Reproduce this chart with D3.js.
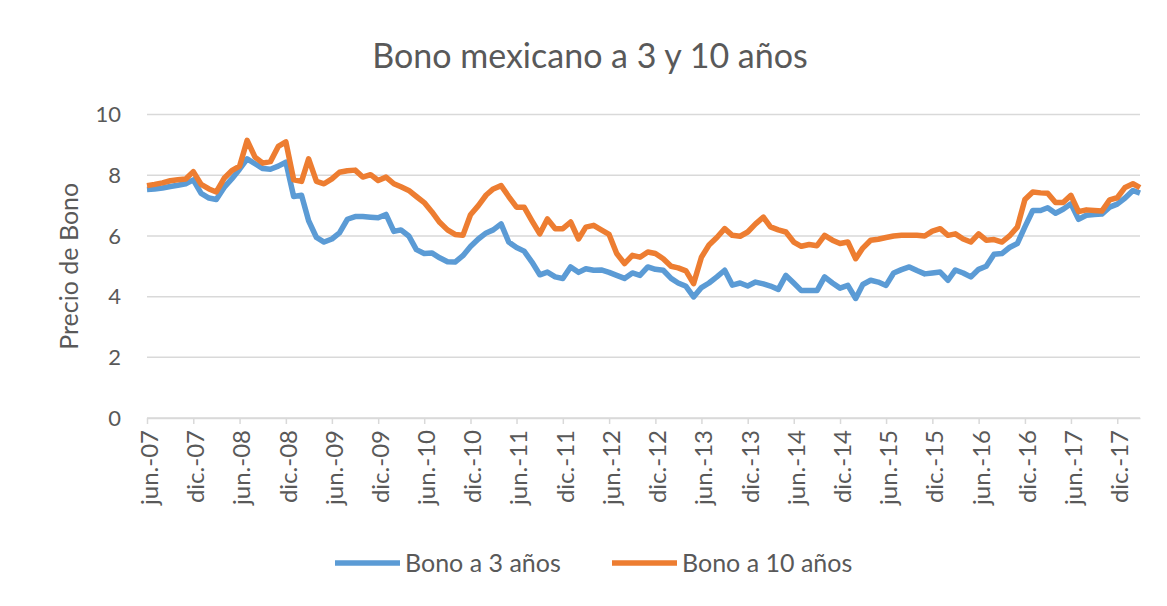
<!DOCTYPE html>
<html>
<head>
<meta charset="utf-8">
<script src="https://cdn.jsdelivr.net/npm/d3@7"></script>
<style>
  body { margin: 0; background: #fff; }
  text { font-family: Lato, "Open Sans", sans-serif; fill: #595959; }
</style>
</head>
<body>
<div id="chart"></div>
<script>
// data
const START = new Date(2007, 5, 1);   // jun.-07
const END = new Date(2018, 2, 1);     // mar.-18
const months = d3.timeMonth.range(START, d3.timeMonth.offset(END, 1));

const bono3 = [
    7.53, 7.55, 7.58, 7.63, 7.67, 7.72, 7.85, 7.40, 7.25, 7.20,
    7.60, 7.88, 8.20, 8.54, 8.38, 8.22, 8.20, 8.30, 8.43, 7.30,
    7.34, 6.50, 5.95, 5.80, 5.90, 6.10, 6.55, 6.64, 6.64, 6.62,
    6.60, 6.71, 6.15, 6.20, 6.00, 5.55, 5.42, 5.44, 5.28, 5.15,
    5.14, 5.35, 5.65, 5.90, 6.10, 6.20, 6.40, 5.80, 5.62, 5.50,
    5.14, 4.72, 4.81, 4.65, 4.60, 4.98, 4.80, 4.92, 4.87, 4.88,
    4.80, 4.70, 4.60, 4.78, 4.70, 4.98, 4.90, 4.87, 4.60, 4.45,
    4.34, 3.99, 4.30, 4.45, 4.65, 4.87, 4.38, 4.45, 4.35, 4.48,
    4.42, 4.35, 4.24, 4.70, 4.45, 4.20, 4.20, 4.20, 4.65, 4.45,
    4.28, 4.37, 3.94, 4.40, 4.54, 4.48, 4.37, 4.78, 4.89, 4.98,
    4.86, 4.75, 4.78, 4.81, 4.54, 4.88, 4.78, 4.65, 4.90, 5.00,
    5.40, 5.42, 5.62, 5.75, 6.30, 6.84, 6.84, 6.93, 6.75, 6.88,
    7.06, 6.55, 6.68, 6.71, 6.72, 6.95, 7.05, 7.25, 7.50, 7.41
];
const bono10 = [
    7.66, 7.70, 7.75, 7.82, 7.85, 7.88, 8.12, 7.70, 7.55, 7.45,
    7.90, 8.15, 8.30, 9.15, 8.60, 8.40, 8.45, 8.95, 9.10, 7.85,
    7.80, 8.54, 7.80, 7.72, 7.88, 8.10, 8.15, 8.17, 7.94, 8.02,
    7.83, 7.94, 7.72, 7.62, 7.50, 7.30, 7.10, 6.80, 6.45, 6.20,
    6.05, 6.02, 6.70, 7.00, 7.35, 7.55, 7.66, 7.30, 6.95, 6.95,
    6.50, 6.07, 6.56, 6.24, 6.24, 6.46, 5.90, 6.29, 6.35, 6.20,
    6.05, 5.42, 5.09, 5.36, 5.30, 5.47, 5.42, 5.25, 5.00, 4.95,
    4.85, 4.43, 5.30, 5.70, 5.95, 6.24, 6.02, 5.99, 6.13, 6.40,
    6.62, 6.30, 6.20, 6.13, 5.80, 5.66, 5.72, 5.68, 6.02, 5.86,
    5.75, 5.80, 5.25, 5.60, 5.86, 5.89, 5.95, 6.00, 6.02, 6.02,
    6.02, 6.00, 6.16, 6.24, 6.02, 6.07, 5.90, 5.80, 6.07, 5.86,
    5.88, 5.80, 6.00, 6.29, 7.20, 7.45, 7.42, 7.41, 7.10, 7.10,
    7.34, 6.80, 6.86, 6.84, 6.82, 7.19, 7.26, 7.60, 7.72, 7.59
];
const seriesNames = ["Bono a 3 años", "Bono a 10 años"];
const monthNames = ["ene.", "feb.", "mar.", "abr.", "may.", "jun.",
    "jul.", "ago.", "sep.", "oct.", "nov.", "dic."];
const yTicks = [0, 2, 4, 6, 8, 10];

// constants
const WIDTH = 1167;
const HEIGHT = 606;
const PLOT_LEFT = 147;
const PLOT_RIGHT = 1140;
const PLOT_TOP = 114.6;
const PLOT_BOTTOM = 418;
const BLUE = "#5b9bd5";
const ORANGE = "#ed7d31";
const GRID = "#d9d9d9";

const svg = d3.select("#chart").append("svg")
    .attr("width", WIDTH)
    .attr("height", HEIGHT);

const x = d3.scaleTime()
    .domain([START, END])
    .range([PLOT_LEFT, PLOT_RIGHT]);
const y = d3.scaleLinear()
    .domain([0, 10])
    .range([PLOT_BOTTOM, PLOT_TOP]);

// gridlines
svg.append("g")
    .selectAll("line")
    .data(yTicks)
    .join("line")
    .attr("x1", PLOT_LEFT)
    .attr("x2", PLOT_RIGHT)
    .attr("y1", d => y(d))
    .attr("y2", d => y(d))
    .attr("stroke", GRID)
    .attr("stroke-width", 1.5);

// y axis labels
const yAxis = svg.append("g")
    .attr("transform", "translate(" + (PLOT_LEFT - 26) + ",0)")
    .call(d3.axisLeft(y).tickValues(yTicks).tickSize(0).tickPadding(0));
yAxis.select(".domain").remove();
yAxis.selectAll("text")
    .style("font-size", "22px")
    .attr("fill", "#595959");

// x axis
const xTicks = months.filter(d => d.getMonth() === 5 || d.getMonth() === 11)
    .filter(d => d <= new Date(2017, 11, 1));
const xAxis = svg.append("g")
    .attr("transform", "translate(0," + PLOT_BOTTOM + ")")
    .call(d3.axisBottom(x)
        .tickValues(xTicks)
        .tickSize(6)
        .tickSizeOuter(0)
        .tickFormat(d => monthNames[d.getMonth()] + "-" + d3.timeFormat("%y")(d)));
xAxis.select(".domain").attr("stroke", GRID).attr("stroke-width", 1.5);
xAxis.selectAll(".tick line").attr("stroke", GRID).attr("stroke-width", 1.5);
xAxis.selectAll("text")
    .style("font-size", "24px")
    .attr("fill", "#595959")
    .attr("text-anchor", "end")
    .attr("transform", "rotate(-90)")
    .attr("x", -12)
    .attr("y", 2)
    .attr("dy", "0.35em");

// lines
const line = d3.line()
    .x((d, i) => x(months[i]))
    .y(d => y(d));

[[bono3, BLUE], [bono10, ORANGE]].forEach(([vals, colour]) => {
    svg.append("path")
        .datum(vals)
        .attr("fill", "none")
        .attr("stroke", colour)
        .attr("stroke-width", 5.5)
        .attr("stroke-linejoin", "round")
        .attr("d", line);
});

// title
svg.append("text")
    .attr("x", 590)
    .attr("y", 68)
    .attr("text-anchor", "middle")
    .style("font-size", "34px")
    .text("Bono mexicano a 3 y 10 años");

// y title
svg.append("text")
    .attr("transform", "translate(78," + ((PLOT_TOP + PLOT_BOTTOM) / 2) + ") rotate(-90)")
    .attr("text-anchor", "middle")
    .style("font-size", "25px")
    .text("Precio de Bono");

// legend
const legend = svg.append("g");
const legendItems = [
    { name: seriesNames[0], colour: BLUE, x: 335 },
    { name: seriesNames[1], colour: ORANGE, x: 612 },
];
legendItems.forEach(item => {
    legend.append("line")
        .attr("x1", item.x)
        .attr("x2", item.x + 65)
        .attr("y1", 563)
        .attr("y2", 563)
        .attr("stroke", item.colour)
        .attr("stroke-width", 5.5);
    legend.append("text")
        .attr("x", item.x + 70)
        .attr("y", 572)
        .style("font-size", "25px")
        .text(item.name);
});
</script>
</body>
</html>
